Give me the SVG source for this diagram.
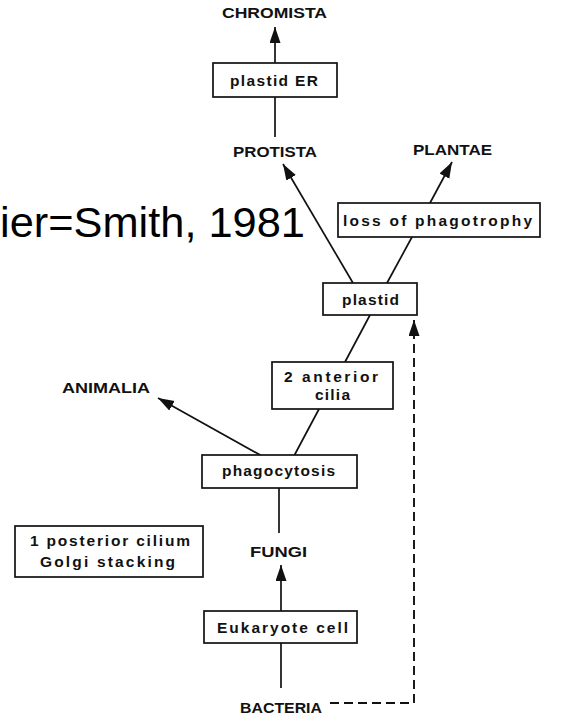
<svg xmlns="http://www.w3.org/2000/svg" width="577" height="721" viewBox="0 0 577 721">
<style>
.box{fill:#fff;stroke:#111;stroke-width:1.7}
.lbl{font-family:"Liberation Sans",Arial,sans-serif;font-weight:bold;font-size:15.5px;fill:#111;text-anchor:start}
.bt{font-family:"Liberation Sans",Arial,sans-serif;font-weight:bold;font-size:15.5px;fill:#111;text-anchor:start}
.ln{stroke:#111;stroke-width:1.7;fill:none}
.dash{stroke:#111;stroke-width:1.9;fill:none;stroke-dasharray:9 5}
.cap{font-family:"Liberation Sans",Arial,sans-serif;font-size:43px;fill:#000}
</style>
<defs>
<marker id="ah" markerUnits="userSpaceOnUse" markerWidth="17" markerHeight="12" refX="16" refY="5.5" orient="auto">
<path d="M0,0 L16,5.5 L0,11 z" fill="#111"/>
</marker>
</defs>
<rect width="577" height="721" fill="#fff"/>
<text class="cap" x="0" y="237" textLength="305" lengthAdjust="spacingAndGlyphs">ier=Smith, 1981</text>
<g id="connectors">
<line class="ln" x1="275" y1="63" x2="275" y2="27" marker-end="url(#ah)"/>
<line class="ln" x1="275" y1="137" x2="275" y2="97"/>
<line class="ln" x1="353" y1="283" x2="283" y2="164" marker-end="url(#ah)"/>
<line class="ln" x1="387" y1="283" x2="412" y2="237"/>
<line class="ln" x1="430" y1="203" x2="452" y2="162" marker-end="url(#ah)"/>
<line class="ln" x1="345" y1="362" x2="370" y2="315"/>
<line class="ln" x1="294" y1="456" x2="319" y2="409"/>
<line class="ln" x1="262" y1="456" x2="158" y2="398" marker-end="url(#ah)"/>
<line class="ln" x1="279" y1="488" x2="279" y2="533"/>
<line class="ln" x1="281" y1="611" x2="281" y2="565" marker-end="url(#ah)"/>
<line class="ln" x1="281" y1="688" x2="281" y2="643"/>
<path class="dash" d="M330,703 H414 V320" marker-end="url(#ah)"/>
</g>
<g id="chromista"><text class="lbl" x="222" y="18" textLength="105" lengthAdjust="spacingAndGlyphs">CHROMISTA</text></g>
<g id="plastid-er"><rect class="box" x="213" y="63" width="124" height="34"/><text class="bt" x="230" y="86" textLength="88" lengthAdjust="spacing">plastid ER</text></g>
<g id="protista"><text class="lbl" x="233" y="157" textLength="84" lengthAdjust="spacingAndGlyphs">PROTISTA</text></g>
<g id="plantae"><text class="lbl" x="413" y="155" textLength="79" lengthAdjust="spacingAndGlyphs">PLANTAE</text></g>
<g id="loss-of-phagotrophy"><rect class="box" x="338" y="203" width="202" height="34"/><text class="bt" x="343" y="226" textLength="189" lengthAdjust="spacing">loss of phagotrophy</text></g>
<g id="plastid"><rect class="box" x="323" y="283" width="94" height="32"/><text class="bt" x="342" y="305" textLength="57" lengthAdjust="spacing">plastid</text></g>
<g id="two-anterior-cilia"><rect class="box" x="272" y="362" width="121" height="47"/><text class="bt" x="284" y="382" textLength="94" lengthAdjust="spacing">2 anterior</text><text class="bt" x="315" y="400" textLength="35" lengthAdjust="spacing">cilia</text></g>
<g id="animalia"><text class="lbl" x="62" y="393" textLength="88" lengthAdjust="spacingAndGlyphs">ANIMALIA</text></g>
<g id="phagocytosis"><rect class="box" x="202" y="455" width="155" height="33"/><text class="bt" x="222" y="476" textLength="113" lengthAdjust="spacing">phagocytosis</text></g>
<g id="posterior-cilium"><rect class="box" x="15" y="526" width="188" height="51"/><text class="bt" x="30" y="546" textLength="160" lengthAdjust="spacing">1 posterior cilium</text><text class="bt" x="40" y="567" textLength="135" lengthAdjust="spacing">Golgi stacking</text></g>
<g id="fungi"><text class="lbl" x="250" y="557" textLength="57" lengthAdjust="spacingAndGlyphs">FUNGI</text></g>
<g id="eukaryote-cell"><rect class="box" x="204" y="611" width="153" height="32"/><text class="bt" x="217" y="633" textLength="131" lengthAdjust="spacing">Eukaryote cell</text></g>
<g id="bacteria"><text class="lbl" x="240" y="713" textLength="82" lengthAdjust="spacingAndGlyphs">BACTERIA</text></g>
</svg>
